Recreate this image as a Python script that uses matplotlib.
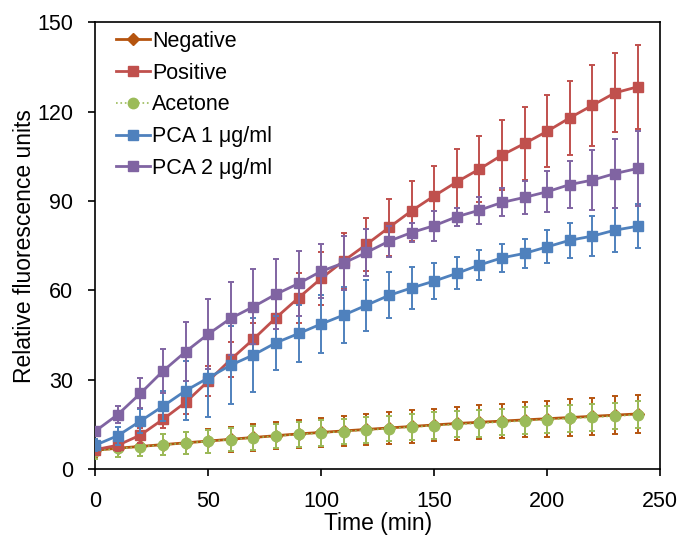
import matplotlib
matplotlib.use("Agg")
import matplotlib.pyplot as plt
import numpy as np

plt.rcParams['font.family'] = ['Liberation Sans', 'DejaVu Sans']

time = np.arange(0, 250, 10)

negative = [6.3, 7.0, 7.6, 8.2, 8.8, 9.4, 10.0, 10.6, 11.2, 11.8, 12.3, 12.8, 13.3,
            13.8, 14.3, 14.8, 15.3, 15.7, 16.1, 16.5, 16.9, 17.3, 17.7, 18.1, 18.5]
negative_err = [2.5, 3.0, 3.2, 3.5, 3.7, 4.0, 4.2, 4.4, 4.6, 4.8, 5.0, 5.1, 5.2,
                5.3, 5.4, 5.5, 5.6, 5.7, 5.8, 5.9, 6.0, 6.1, 6.2, 6.3, 6.4]

positive = [6.5, 8.0, 11.4, 16.7, 22.4, 29.5, 36.8, 43.6, 50.8, 57.5, 64.0, 69.9, 75.4,
            81.1, 86.7, 91.7, 96.4, 100.7, 105.4, 109.3, 113.4, 117.9, 122.1, 126.3, 128.3]
positive_err = [1.5, 2.0, 2.5, 3.0, 4.0, 5.0, 6.0, 5.5, 7.0, 8.4, 9.0, 9.3, 9.0,
                9.7, 10.0, 10.0, 10.9, 11.0, 11.7, 12.3, 12.0, 12.5, 13.5, 13.3, 14.0]

acetone = [6.0, 6.9, 7.5, 8.1, 8.7, 9.3, 9.9, 10.5, 11.1, 11.6, 12.1, 12.6, 13.1,
           13.6, 14.1, 14.6, 15.0, 15.4, 15.8, 16.2, 16.6, 17.0, 17.4, 17.8, 18.2]
acetone_err = [2.5, 3.0, 3.2, 3.5, 3.6, 3.8, 3.9, 4.0, 4.1, 4.2, 4.2, 4.3, 4.3,
               4.3, 4.4, 4.4, 4.4, 4.5, 4.5, 4.5, 4.5, 4.5, 4.5, 4.5, 4.5]

pca1 = [8.0, 11.2, 16.1, 21.1, 26.3, 30.6, 34.9, 38.3, 42.4, 45.5, 48.7, 51.7, 55.0,
        58.3, 60.8, 63.1, 65.7, 68.5, 70.9, 72.4, 74.6, 76.8, 78.2, 80.2, 81.5]
pca1_err = [2.0, 3.0, 4.0, 5.0, 10.0, 13.0, 13.0, 12.5, 9.0, 9.5, 9.8, 9.4, 8.5,
            7.7, 7.1, 6.1, 5.4, 5.0, 4.8, 4.9, 5.5, 5.8, 6.6, 7.3, 7.4]

pca2 = [12.7, 18.3, 25.4, 32.9, 39.4, 45.3, 50.6, 54.5, 58.7, 62.3, 66.4, 69.2, 72.7,
        76.5, 79.4, 81.7, 84.7, 86.9, 89.5, 91.2, 93.1, 95.5, 97.0, 99.2, 100.9]
pca2_err = [1.5, 3.0, 5.0, 7.4, 10.0, 11.7, 12.3, 12.6, 11.8, 10.9, 9.1, 9.0, 8.0,
            5.2, 3.3, 5.0, 3.0, 4.5, 4.7, 5.5, 6.8, 8.0, 10.0, 11.5, 12.6]

fig = plt.figure(figsize=(6.8, 5.41), dpi=100)
ax = fig.add_axes([0.14, 0.133, 0.831, 0.826])

kw = dict(capsize=2.5, elinewidth=1.4, capthick=1.4)
ax.errorbar(time, negative, yerr=negative_err, color='#B5540F', marker='D', ms=6,
            lw=2.0, label='Negative', zorder=3, **kw)
ax.errorbar(time, positive, yerr=positive_err, color='#C0504D', marker='s', ms=7,
            lw=2.0, label='Positive', zorder=4, **kw)
ax.errorbar(time, acetone, yerr=acetone_err, color='#9BBB59', marker='o', ms=7.5,
            lw=1.2, ls=':', label='Acetone', zorder=3.5, **kw)
ax.errorbar(time, pca1, yerr=pca1_err, color='#4F81BD', marker='s', ms=7,
            lw=2.0, label='PCA 1 μg/ml', zorder=5, **kw)
ax.errorbar(time, pca2, yerr=pca2_err, color='#8064A2', marker='s', ms=7,
            lw=2.0, label='PCA 2 μg/ml', zorder=6, **kw)

ax.set_xlim(0, 250)
ax.set_ylim(0, 150)
ax.set_xticks([0, 50, 100, 150, 200, 250])
ax.set_yticks([0, 30, 60, 90, 120, 150])
ax.tick_params(direction='out', length=5, width=1.2, labelsize=15.5, colors='black')
ax.tick_params(axis='x', pad=11)
ax.tick_params(axis='y', pad=11)
for s in ax.spines.values():
    s.set_linewidth(1.2)

ax.set_xlabel('Time (min)', fontsize=16.5, labelpad=0)
ax.set_ylabel('Relative fluorescence units', fontsize=16.5, labelpad=1)

handles, labels = ax.get_legend_handles_labels()
handles = [h[0] for h in handles]
ax.legend(handles, labels, loc='upper left', frameon=False, fontsize=15.5,
          handlelength=1.55, handletextpad=0.1, labelspacing=0.5,
          borderaxespad=0.0, bbox_to_anchor=(0.022, 1.0))

fig.savefig('out.png', dpi=100)
